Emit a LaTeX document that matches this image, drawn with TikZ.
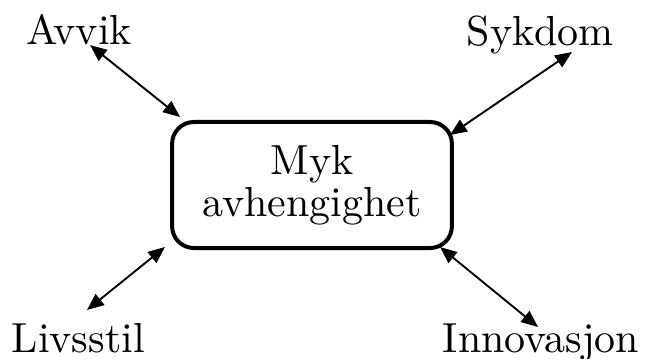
\documentclass[tikz,border=0pt]{standalone}
\usepackage{fontspec}
\usetikzlibrary{arrows.meta}
\begin{document}
\begin{tikzpicture}[x=0.238pt,y=-0.238pt,
  hub/.style={draw,line width=0.95pt,rounded corners=5.2pt,
    minimum width=66.6pt,minimum height=30pt,align=center,
    font=\fontsize{10}{9.9}\selectfont,inner sep=0pt},
  label/.style={anchor=base west,inner sep=0pt,font=\fontsize{10}{12}\selectfont},
  link/.style={line width=0.45pt,{Triangle[length=4pt,width=3.3pt]}-{Triangle[length=4pt,width=3.3pt]}}]
  \useasboundingbox (0,0) rectangle (645,358);

  % central box
  \node[hub] (hub) at (312,185) {Myk\\avhengighet};

  % surrounding terms
  \node[label] (avvik) at (26,44) {Avvik};
  \node[label] (sykdom) at (466,45) {Sykdom};
  \node[label] (livsstil) at (11,352) {Livsstil};
  \node[label] (innov) at (442,352) {Innovasjon};

  % arrow ends
  \coordinate (a1) at (90,45);   \coordinate (a2) at (180,117);
  \coordinate (s1) at (572,52);  \coordinate (s2) at (450,135);
  \coordinate (l1) at (87,310);  \coordinate (l2) at (165,247);
  \coordinate (i1) at (440,247); \coordinate (i2) at (538,327);

  \draw[link] (a1) -- (a2);
  \draw[link] (s1) -- (s2);
  \draw[link] (l1) -- (l2);
  \draw[link] (i1) -- (i2);
\end{tikzpicture}
\end{document}
